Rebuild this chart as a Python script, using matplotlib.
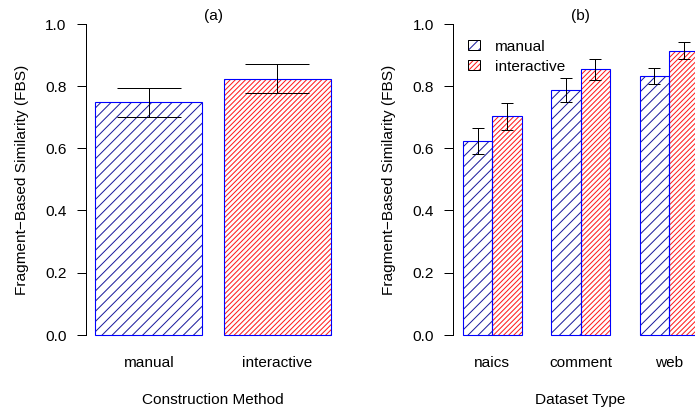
import matplotlib
matplotlib.use("Agg")
import matplotlib.pyplot as plt
from matplotlib.patches import Patch

# Figure resolution; hatch repeat size follows it
DPI = 61.2
PX = 72.0 / DPI  # points per pixel

# ---- data -------------------------------------------------------------
methods = ["manual", "interactive"]
method_mean = [0.747, 0.823]
method_err = [0.047, 0.047]

datasets = ["naics", "comment", "web"]
manual_mean = [0.624, 0.786, 0.831]
manual_err = [0.041, 0.039, 0.026]
interactive_mean = [0.702, 0.853, 0.914]
interactive_err = [0.043, 0.034, 0.026]

yticks = [0.0, 0.2, 0.4, 0.6, 0.8, 1.0]

# ---- style ------------------------------------------------------------
BORDER = "#0000ff"
MANUAL_HATCH = "#1c1c9c"
INTER_HATCH = "#ff1a1a"
MANUAL_PATTERN = "//"
INTER_PATTERN = "////"
YLABEL = "Fragment\u2212Based Similarity (FBS)"

plt.rcParams["font.family"] = ["Liberation Sans", "DejaVu Sans"]
plt.rcParams["font.size"] = 18.1
plt.rcParams["hatch.linewidth"] = 1.0 * PX

fig = plt.figure(figsize=(695.3 / DPI, 411.3 / DPI), dpi=DPI)
fig.patch.set_facecolor("white")

W, H = 695.0, 411.0
ax_w = 254.2 / W
ax_h = 335.8 / H
ax_b = (H - 347.4) / H
ax_a = fig.add_axes([86.0 / W, ax_b, ax_w, ax_h])
ax_bb = fig.add_axes([453.3 / W, ax_b, ax_w, ax_h])


def hatched_bars(ax, x, heights, hatch, color):
    ax.bar(x, heights, 1.0, facecolor="none", edgecolor=color, linewidth=0,
           hatch=hatch, zorder=2)
    ax.bar(x, heights, 1.0, fill=False, edgecolor=BORDER,
           linewidth=1.1 * PX, zorder=3)


def style_axis(ax, xlim):
    ax.set_xlim(*xlim)
    ax.set_ylim(-0.04, 1.04)
    for s in ("top", "right", "bottom"):
        ax.spines[s].set_visible(False)
    ax.spines["left"].set_bounds(0, 1)
    ax.spines["left"].set_linewidth(PX)
    ax.set_yticks(yticks)
    ax.set_yticklabels([f"{v:.1f}" for v in yticks])
    ax.tick_params(axis="y", length=9.3 * PX, width=PX, pad=10.3 * PX)
    ax.tick_params(axis="x", length=0, pad=8.0 * PX)
    ax.text(-0.253, 0.5, YLABEL, transform=ax.transAxes, rotation=90,
            ha="center", va="center")


# ---- panel (a): construction method -----------------------------------
xa = [0.7, 1.9]
hatched_bars(ax_a, [xa[0]], [method_mean[0]], MANUAL_PATTERN, MANUAL_HATCH)
hatched_bars(ax_a, [xa[1]], [method_mean[1]], INTER_PATTERN, INTER_HATCH)
ax_a.errorbar(xa, method_mean, yerr=method_err, fmt="none", ecolor="black",
              elinewidth=PX, capsize=31.5 * PX, capthick=PX, zorder=4)
style_axis(ax_a, (0.112, 2.488))
ax_a.set_xticks(xa)
ax_a.set_xticklabels(methods)
ax_a.set_xlabel("Construction Method", labelpad=23 * PX)
ax_a.text(0.5, 0.988, "(a)", transform=ax_a.transAxes, ha="center", va="center")

# ---- panel (b): dataset type ------------------------------------------
groups = [2.0, 5.0, 8.0]
xm = [g - 0.5 for g in groups]
xi = [g + 0.5 for g in groups]
hatched_bars(ax_bb, xm, manual_mean, MANUAL_PATTERN, MANUAL_HATCH)
hatched_bars(ax_bb, xi, interactive_mean, INTER_PATTERN, INTER_HATCH)
ax_bb.errorbar(xm, manual_mean, yerr=manual_err, fmt="none", ecolor="black",
               elinewidth=PX, capsize=6.2 * PX, capthick=PX, zorder=4)
ax_bb.errorbar(xi, interactive_mean, yerr=interactive_err, fmt="none",
               ecolor="black", elinewidth=PX, capsize=6.2 * PX, capthick=PX,
               zorder=4)
style_axis(ax_bb, (0.68, 9.32))
ax_bb.set_xticks(groups)
ax_bb.set_xticklabels(datasets)
ax_bb.set_xlabel("Dataset Type", labelpad=23 * PX)
ax_bb.text(0.5, 0.988, "(b)", transform=ax_bb.transAxes, ha="center", va="center")

handles = [
    (Patch(facecolor="none", edgecolor=MANUAL_HATCH, linewidth=0,
           hatch=MANUAL_PATTERN),
     Patch(fill=False, edgecolor="black", linewidth=PX)),
    (Patch(facecolor="none", edgecolor=INTER_HATCH, linewidth=0,
           hatch=INTER_PATTERN),
     Patch(fill=False, edgecolor="black", linewidth=PX)),
]
ax_bb.legend(handles, methods, loc="upper left",
             bbox_to_anchor=(0.057, 0.917), frameon=False, borderpad=0,
             borderaxespad=0, handlelength=0.77, handleheight=0.64,
             handletextpad=0.98, labelspacing=0.42)

fig.savefig("out.png", dpi=DPI, facecolor="white")
